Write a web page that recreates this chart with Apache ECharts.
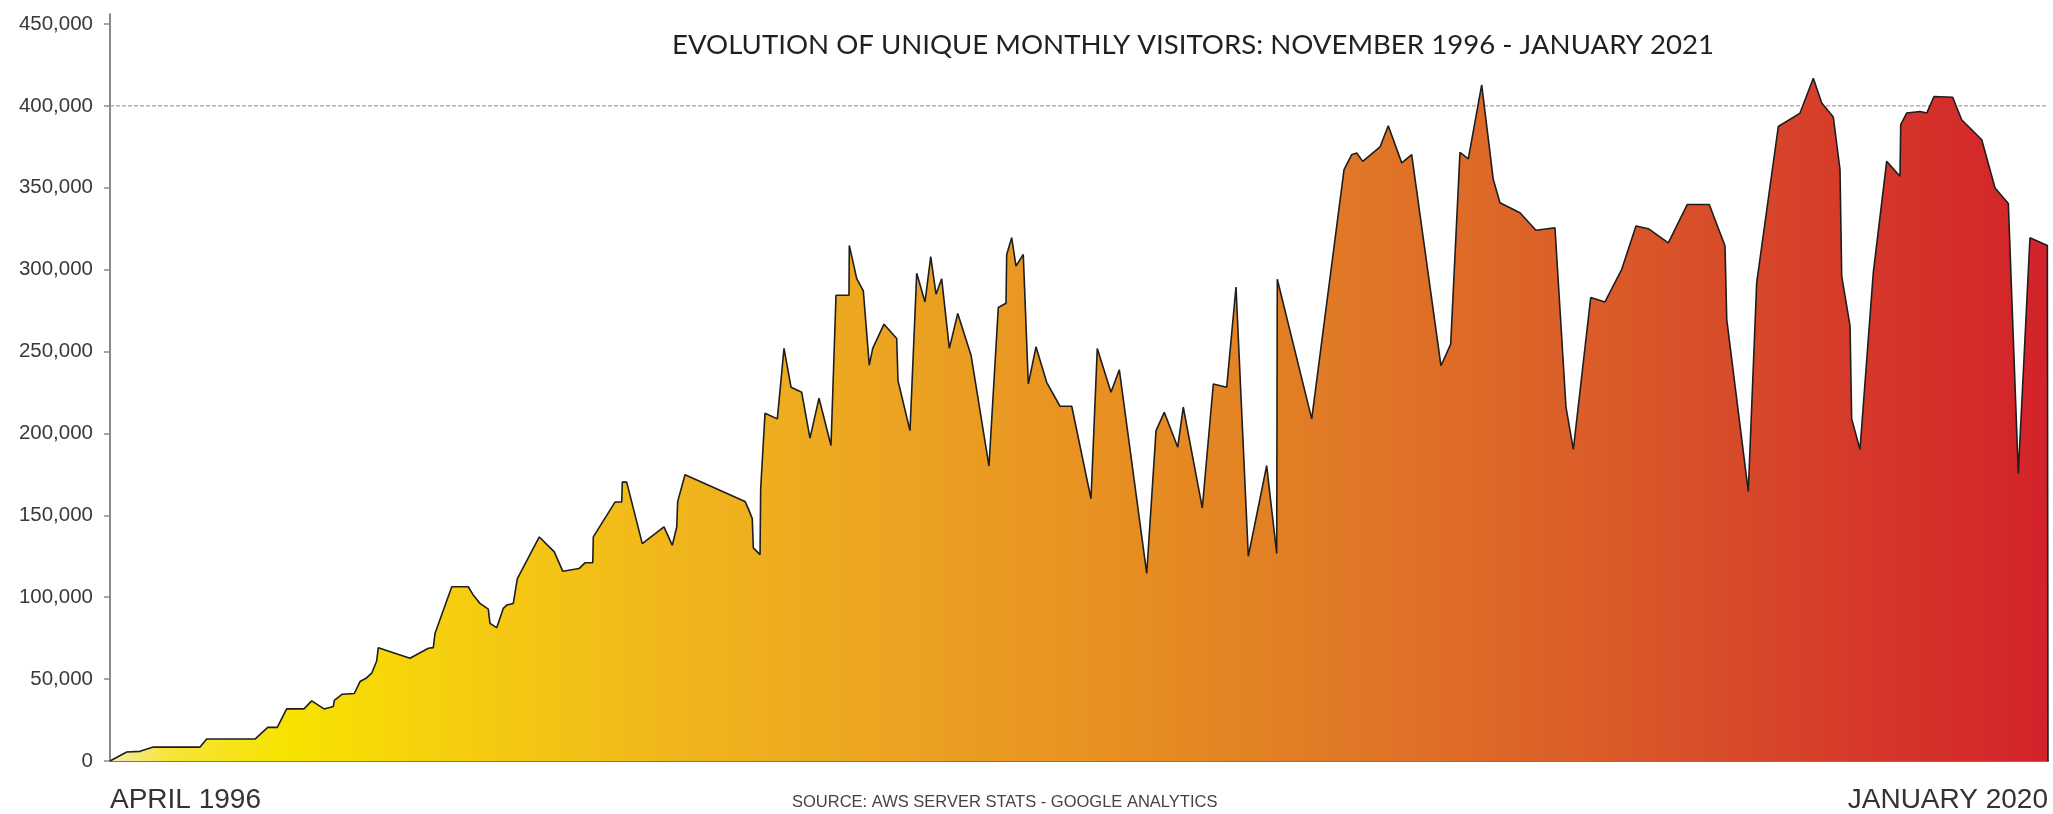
<!DOCTYPE html>
<html>
<head>
<meta charset="utf-8">
<title>Unique monthly visitors</title>
<script src="https://cdn.jsdelivr.net/npm/echarts/dist/echarts.min.js"></script>
<style>
  html, body { margin: 0; padding: 0; background: #fff; }
  #chart { width: 2053px; height: 814px; }
</style>
</head>
<body>
<div id="chart"></div>
<script>
// time of each vertex as a decimal year
var months = [
  1996.250, 1996.455, 1996.618, 1996.781, 1997.353, 1997.435, 1998.027, 1998.183, 1998.300, 1998.415,
  1998.627, 1998.722, 1998.873, 1998.987, 1998.999, 1999.097, 1999.244, 1999.314, 1999.387, 1999.457,
  1999.518, 1999.538, 1999.926, 2000.151, 2000.212, 2000.233, 2000.438, 2000.641, 2000.702, 2000.784,
  2000.886, 2000.907, 2000.989, 2001.070, 2001.112, 2001.192, 2001.242, 2001.511, 2001.695, 2001.798,
  2001.998, 2002.071, 2002.166, 2002.173, 2002.439, 2002.521, 2002.528, 2002.582, 2002.773, 2003.039,
  2003.141, 2003.195, 2003.207, 2003.297, 2004.032, 2004.072, 2004.121, 2004.134, 2004.216, 2004.224,
  2004.277, 2004.428, 2004.510, 2004.596, 2004.727, 2004.828, 2004.939, 2005.086, 2005.147, 2005.306,
  2005.310, 2005.401, 2005.482, 2005.555, 2005.597, 2005.735, 2005.891, 2005.907, 2006.054, 2006.136,
  2006.238, 2006.308, 2006.373, 2006.442, 2006.536, 2006.639, 2006.802, 2007.022, 2007.136, 2007.230,
  2007.239, 2007.300, 2007.353, 2007.442, 2007.504, 2007.598, 2007.729, 2007.892, 2008.036, 2008.272,
  2008.349, 2008.517, 2008.619, 2008.955, 2009.069, 2009.170, 2009.335, 2009.403, 2009.636, 2009.771,
  2009.935, 2010.049, 2010.200, 2010.425, 2010.548, 2010.555, 2010.977, 2011.373, 2011.467, 2011.528,
  2011.602, 2011.814, 2011.915, 2012.080, 2012.202, 2012.561, 2012.680, 2012.794, 2012.896, 2013.060,
  2013.202, 2013.284, 2013.529, 2013.725, 2013.958, 2014.093, 2014.183, 2014.396, 2014.571, 2014.776,
  2014.951, 2015.102, 2015.347, 2015.580, 2015.849, 2016.042, 2016.063, 2016.327, 2016.430, 2016.695,
  2016.961, 2017.124, 2017.227, 2017.369, 2017.451, 2017.472, 2017.574, 2017.594, 2017.696, 2017.859,
  2018.023, 2018.186, 2018.195, 2018.268, 2018.431, 2018.514, 2018.603, 2018.832, 2018.942, 2019.188,
  2019.351, 2019.514, 2019.636, 2019.779, 2019.992, 2020.000
];

var visitors = [
  0, 5500, 5900, 8500, 8500, 13400, 13400, 20500, 20500, 31800,
  31800, 36700, 31800, 33300, 37000, 40800, 41200, 48500, 50500, 53600,
  61100, 69200, 62700, 68800, 69200, 77900, 106400, 106400, 101300, 96200,
  92700, 84000, 81400, 93200, 95200, 96200, 111400, 136800, 127700, 115900,
  117500, 121000, 121000, 136800, 158100, 158100, 170300, 170300, 132700, 142900,
  131700, 142900, 158500, 174800, 158500, 154100, 148000, 130100, 126000, 166200,
  212300, 208900, 251900, 228200, 225100, 197100, 221500, 192600, 284400, 284400,
  314800, 294500, 287000, 241700, 251900, 266700, 258000, 232200, 201700, 297800,
  280300, 307900, 285000, 294500, 251900, 273200, 247800, 180100, 276900, 279500,
  309300, 319500, 302200, 309300, 230200, 252900, 231200, 216600, 216600, 160100,
  251900, 225100, 238900, 114500, 201700, 212900, 191600, 216000, 154500, 230200,
  228200, 289400, 125000, 180400, 126700, 294100, 208900, 361100, 370200, 371200,
  366100, 374900, 387900, 365200, 370200, 241300, 254500, 371600, 367600, 412800,
  355000, 340800, 334700, 324100, 325600, 216000, 190200, 283000, 280300, 300200,
  326600, 325000, 316400, 339800, 339800, 314400, 269700, 164600, 292100, 387400,
  395600, 416900, 401700, 393200, 361100, 296100, 265700, 208900, 190200, 298200,
  366100, 357000, 388500, 395600, 396600, 395600, 405700, 405300, 391500, 379300,
  349900, 340400, 175400, 319500, 314800, 0
];

var yTicks = [0, 50000, 100000, 150000, 200000, 250000, 300000, 350000, 400000, 450000];
var xTicks = [1996.25, 2020];
var xTickLabels = ['APRIL 1996', 'JANUARY 2020'];
var referenceLevel = [400000, 400000];

var dom = document.getElementById('chart');
var myChart = echarts.init(dom);

var seriesData = months.map(function (t, i) {
    return [t, visitors[i]];
});
var refData = xTicks.map(function (t, i) {
    return [t, referenceLevel[i]];
});

function thousands(v) {
    return String(v).replace(/\B(?=(\d{3})+(?!\d))/g, ',');
}

var option = {
    animation: false,
    backgroundColor: '#ffffff',
    title: [{
        text: 'EVOLUTION OF UNIQUE MONTHLY VISITORS: NOVEMBER 1996 - JANUARY 2021',
        left: 667,
        top: 26,
        textStyle: {
            fontFamily: 'Lato',
            fontWeight: 'normal',
            fontSize: 27.6,
            color: '#231f20'
        }
    }, {
        text: 'SOURCE: AWS SERVER STATS - GOOGLE ANALYTICS',
        left: 792,
        top: 794,
        padding: 0,
        textStyle: {
            fontFamily: 'Liberation Sans',
            fontWeight: 'normal',
            fontSize: 16.5,
            color: '#444444'
        }
    }],
    grid: {
        left: 110,
        right: 5,
        top: 14.15,
        bottom: 51
    },
    xAxis: {
        type: 'value',
        min: 1996.25,
        max: 2020,
        splitLine: { show: false },
        axisLine: { lineStyle: { color: '#777777', width: 2 } },
        axisTick: { show: false },
        axisLabel: {
            customValues: xTicks,
            alignMinLabel: 'left',
            alignMaxLabel: 'right',
            margin: 25,
            fontFamily: 'Liberation Sans',
            fontSize: 28,
            color: '#333333',
            formatter: function (v) {
                var i = xTicks.indexOf(v);
                return i >= 0 ? xTickLabels[i] : '';
            }
        }
    },
    yAxis: {
        type: 'value',
        min: 0,
        max: 456000,
        splitLine: { show: false },
        axisLine: { show: true, lineStyle: { color: '#8a8a8a', width: 2 } },
        axisTick: {
            show: true,
            customValues: yTicks,
            length: 6,
            lineStyle: { color: '#8a8a8a', width: 1.5 }
        },
        axisLabel: {
            customValues: yTicks,
            margin: 17,
            fontFamily: 'Liberation Sans',
            fontSize: 20.5,
            color: '#3a3a3a',
            formatter: thousands
        }
    },
    series: [{
        name: 'level',
        type: 'line',
        z: 1,
        silent: true,
        showSymbol: false,
        data: refData,
        lineStyle: { color: '#8c8c8c', width: 1, type: [4, 2] }
    }, {
        name: 'visitors',
        type: 'line',
        z: 3,
        showSymbol: false,
        data: seriesData,
        lineStyle: { color: '#1e1e1e', width: 1.6 },
        areaStyle: {
            opacity: 1,
            color: new echarts.graphic.LinearGradient(0, 0, 1, 0, [
                { offset: 0, color: '#f4eba8' },
                { offset: 0.03, color: '#f6e43a' },
                { offset: 0.09, color: '#f7e300' },
                { offset: 0.2, color: '#f5c912' },
                { offset: 0.3, color: '#f0b41d' },
                { offset: 0.42, color: '#eba122' },
                { offset: 0.52, color: '#e78f21' },
                { offset: 0.62, color: '#e17c26' },
                { offset: 0.72, color: '#dd6628' },
                { offset: 0.82, color: '#d84f29' },
                { offset: 0.91, color: '#d5372a' },
                { offset: 1, color: '#d3222b' }
            ])
        }
    }]
};

myChart.setOption(option);
</script>
</body>
</html>
